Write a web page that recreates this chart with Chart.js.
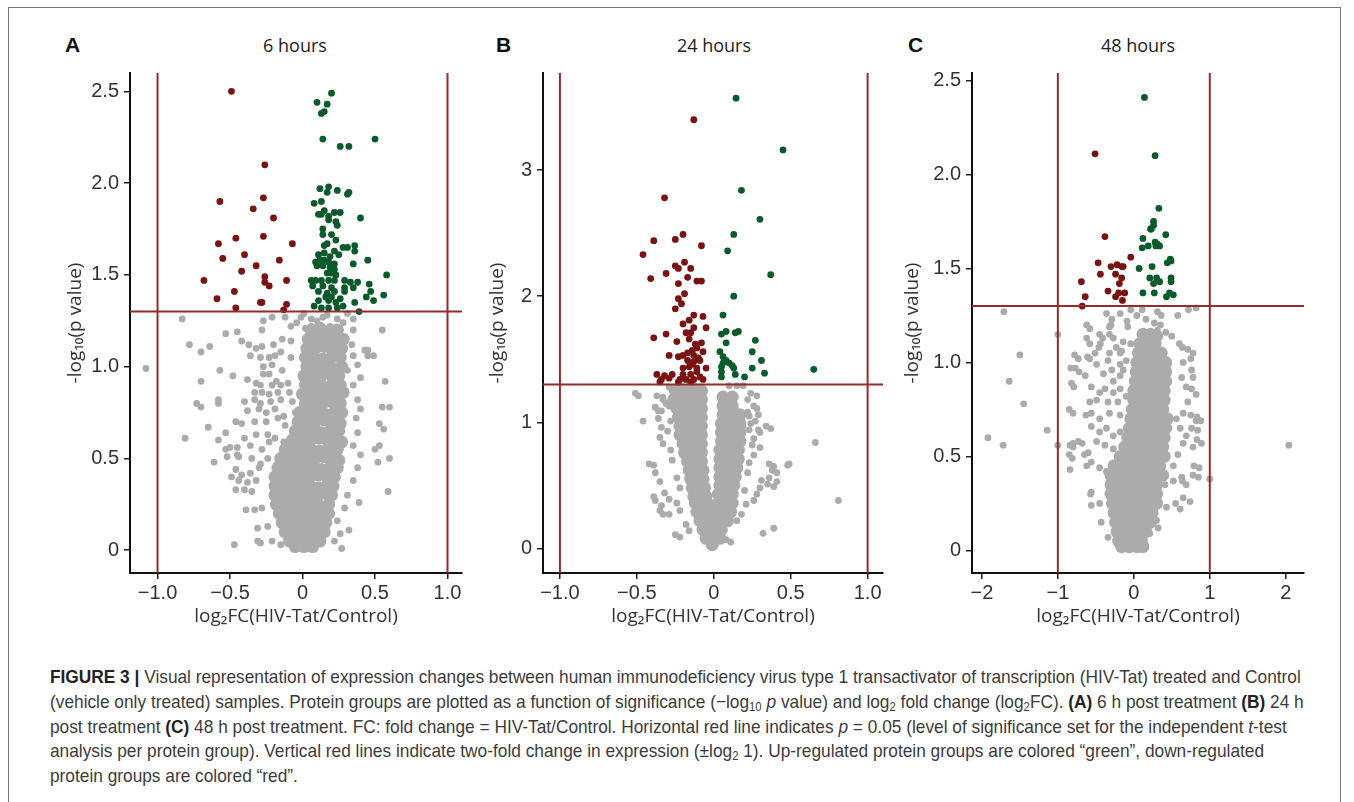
<!DOCTYPE html>
<html>
<head>
<meta charset="utf-8">
<script src="https://cdn.jsdelivr.net/npm/chart.js@4.4.0/dist/chart.umd.min.js"></script>
<style>
  body { margin:0; background:#fff; width:1354px; height:802px; overflow:hidden; position:relative; }
  #frame { position:absolute; left:8px; top:7px; width:1331px; height:830px; border:1px solid #777; }
  canvas { position:absolute; }
  .letter { position:absolute; top:34px; font:bold 21px "Liberation Sans", Arial, sans-serif; color:#111; line-height:22px; }
  .ttl { position:absolute; top:34px; width:200px; text-align:center; font:18px "Open Sans", sans-serif; color:#222; line-height:22px; }
  #caption { position:absolute; left:50px; top:665px; font:18.4px "Liberation Sans Narrow", "Liberation Sans", Arial, sans-serif; color:#3c3c3c; line-height:24.8px; white-space:nowrap; transform:scaleX(0.94); transform-origin:0 0; }
  #caption b { color:#222; }
  #caption sub { font-size:12px; vertical-align:-3px; line-height:0; }
</style>
</head>
<body>
<div id="frame"></div>

<div class="letter" style="left:65px">A</div>
<div class="letter" style="left:496px">B</div>
<div class="letter" style="left:908px">C</div>
<div class="ttl" style="left:195px">6 hours</div>
<div class="ttl" style="left:614px">24 hours</div>
<div class="ttl" style="left:1038px">48 hours</div>

<canvas id="cA" width="412" height="576" style="left:60px;top:56px"></canvas>
<canvas id="cB" width="411" height="576" style="left:482px;top:56px"></canvas>
<canvas id="cC" width="417" height="576" style="left:897px;top:56px"></canvas>

<div id="caption">
<b>FIGURE 3 |</b> Visual representation of expression changes between human immunodeficiency virus type 1 transactivator of transcription (HIV-Tat) treated and Control<br>
(vehicle only treated) samples. Protein groups are plotted as a function of significance (−log<sub>10</sub> <i>p</i> value) and log<sub>2</sub> fold change (log<sub>2</sub>FC). <b>(A)</b> 6 h post treatment <b>(B)</b> 24 h<br>
post treatment <b>(C)</b> 48 h post treatment. FC: fold change = HIV-Tat/Control. Horizontal red line indicates <i>p</i> = 0.05 (level of significance set for the independent <i>t</i>-test<br>
analysis per protein group). Vertical red lines indicate two-fold change in expression (±log<sub>2</sub> 1). Up-regulated protein groups are colored “green”, down-regulated<br>
protein groups are colored “red”.
</div>

<script>
// thresholds: p = 0.05 and two-fold change
const pLine = 1.3;
const fcLines = [-1, 1];

// ---- panel A: 6 hours ----
const xTicksA = [-1, -0.5, 0, 0.5, 1];
const xLabelsA = ['−1.0', '−0.5', '0', '0.5', '1.0'];
const yTicksA = [0, 0.5, 1, 1.5, 2, 2.5];
const yLabelsA = ['0', '0.5', '1.0', '1.5', '2.0', '2.5'];

const downA = [[-0.49,2.50],[-0.26,2.10],[-0.57,1.90],[-0.27,1.92],[-0.34,1.86],[-0.20,1.81],[-0.46,1.70],[-0.27,1.71],
  [-0.58,1.67],[-0.07,1.67],[-0.40,1.61],[-0.55,1.59],[-0.16,1.58],[-0.32,1.55],[-0.42,1.52],[-0.26,1.49],[-0.26,1.46],
  [-0.68,1.47],[-0.11,1.47],[-0.23,1.44],[-0.47,1.41],[-0.59,1.37],[-0.29,1.35],[-0.28,1.35],[-0.11,1.34],[-0.46,1.32],[-0.13,1.31]];

const upA = [[0.20,2.49],[0.10,2.44],[0.17,2.43],[0.13,2.38],[0.15,2.39],[0.14,2.24],[0.50,2.24],[0.26,2.20],[0.32,2.20],
  [0.12,1.97],[0.18,1.98],[0.17,1.95],[0.24,1.96],[0.31,1.94],[0.32,1.95],[0.08,1.89],[0.13,1.90],[0.15,1.85],[0.11,1.83],
  [0.13,1.83],[0.18,1.82],[0.22,1.84],[0.26,1.84],[0.23,1.79],[0.40,1.81],[0.18,1.80],[0.24,1.77],[0.14,1.75],[0.14,1.72],
  [0.20,1.72],[0.23,1.69],[0.15,1.66],[0.17,1.67],[0.28,1.65],[0.31,1.65],[0.36,1.66],[0.36,1.63],[0.22,1.63],[0.11,1.61],
  [0.15,1.62],[0.25,1.61],[0.19,1.60],[0.45,1.58],[0.09,1.57],[0.12,1.58],[0.15,1.58],[0.18,1.57],[0.22,1.56],[0.35,1.56],
  [0.10,1.55],[0.14,1.55],[0.19,1.54],[0.22,1.53],[0.17,1.51],[0.20,1.51],[0.23,1.50],[0.58,1.50],[0.06,1.47],[0.09,1.47],
  [0.13,1.47],[0.18,1.47],[0.22,1.47],[0.29,1.47],[0.33,1.46],[0.38,1.46],[0.46,1.45],[0.07,1.44],[0.14,1.44],[0.20,1.43],
  [0.29,1.43],[0.35,1.43],[0.11,1.41],[0.17,1.40],[0.22,1.41],[0.29,1.41],[0.47,1.41],[0.16,1.38],[0.20,1.38],[0.26,1.37],
  [0.44,1.38],[0.56,1.39],[0.11,1.36],[0.18,1.36],[0.23,1.35],[0.36,1.35],[0.49,1.36],[0.08,1.33],[0.13,1.32],[0.18,1.32],
  [0.24,1.32],[0.28,1.33],[0.39,1.30]];

const grayA = [[-1.08,0.99],[-0.83,1.26],[-0.78,1.12],[-0.70,1.08],[-0.64,1.11],[-0.53,1.18],[-0.45,1.19],[-0.70,0.92],
  [-0.57,0.98],[-0.48,0.95],[-0.73,0.80],[-0.70,0.78],[-0.58,0.82],[-0.58,0.80],[-0.65,0.67],[-0.81,0.61],[-0.58,0.60],
  [-0.53,0.64],[-0.61,0.48],[-0.53,0.55],[-0.50,0.56],[-0.52,0.51],[-0.45,0.56],[-0.44,0.51],[-0.47,0.03],[-0.29,0.04],
  [0.55,1.20],[0.45,1.09],[0.49,1.06],[0.57,0.92],[0.55,0.78],[0.60,0.78],[0.53,0.69],[0.56,0.66],[0.50,0.55],[0.53,0.57],
  [0.52,0.48],[0.60,0.50],[0.59,0.32],[0.39,0.26],[0.32,0.11],[0.27,0.01],
  [-0.27,1.25],[-0.21,1.27],[-0.12,1.27],[-0.28,1.20],[-0.08,1.22],[-0.42,1.14],[-0.37,1.12],[-0.32,1.10],[-0.28,1.11],
  [-0.20,1.12],[-0.14,1.15],[-0.08,1.14],[-0.36,1.06],[-0.29,1.05],[-0.23,1.05],[-0.19,1.06],[-0.15,1.08],[-0.27,1.00],
  [-0.21,1.01],[-0.14,0.98],[-0.08,1.05],[-0.27,0.96],[-0.23,0.96],[-0.18,0.92],[-0.38,0.93],[-0.32,0.91],[-0.29,0.90],
  [-0.21,0.90],[-0.15,0.90],[-0.10,0.91],[-0.33,0.86],[-0.28,0.86],[-0.23,0.85],[-0.17,0.86],[-0.09,0.86],[-0.40,0.81],
  [-0.33,0.82],[-0.29,0.80],[-0.22,0.81],[-0.15,0.82],[-0.07,0.81],[-0.38,0.76],[-0.30,0.77],[-0.25,0.75],[-0.19,0.77],
  [-0.13,0.73],[-0.05,0.75],[-0.46,0.70],[-0.42,0.69],[-0.33,0.70],[-0.25,0.70],[-0.17,0.72],[-0.12,0.68],[-0.04,0.71],
  [-0.40,0.61],[-0.32,0.63],[-0.24,0.63],[-0.19,0.61],[-0.13,0.59],[-0.06,0.62],[-0.36,0.57],[-0.28,0.55],[-0.23,0.59],
  [-0.45,0.52],[-0.35,0.50],[-0.29,0.47],[-0.46,0.44],[-0.42,0.41],[-0.36,0.42],[-0.30,0.45],[-0.24,0.50],[-0.49,0.40],
  [-0.44,0.38],[-0.38,0.37],[-0.32,0.38],[-0.46,0.33],[-0.40,0.33],[-0.35,0.32],[-0.39,0.22],[-0.33,0.22],[-0.28,0.23],
  [-0.31,0.12],[-0.24,0.13],[-0.21,0.05],[-0.15,0.03],[-0.31,0.05],
  [0.35,1.20],[0.34,1.12],[0.43,1.09],[0.45,1.06],[0.35,1.06],[0.38,1.01],[0.31,0.98],[0.40,0.94],[0.35,0.90],[0.38,0.82],
  [0.40,0.77],[0.37,0.72],[0.38,0.64],[0.35,0.57],[0.40,0.52],[0.38,0.45],[0.35,0.38],[0.31,0.30],[0.29,0.23],[0.24,0.16],
  [0.26,0.09],[0.22,0.05],
  [0.01,1.29],[0.06,1.26],[0.14,1.27],[0.24,1.26],[0.31,1.29],[0.35,1.26],[-0.01,1.27],[0.06,1.22],[0.19,1.22],[0.26,1.20],
  [0.10,1.25],[0.17,1.28],[0.28,1.24],[0.02,1.21],[-0.04,1.24]];

// dense centre of the cloud
const coreA = [[0.06,1.20],[0.12,1.21],[0.18,1.19],[0.24,1.20],[0.04,1.15],[0.10,1.15],[0.16,1.16],[0.22,1.14],[0.28,1.15],
  [0.03,1.10],[0.09,1.10],[0.15,1.11],[0.21,1.09],[0.27,1.10],[0.02,1.05],[0.08,1.05],[0.14,1.04],[0.20,1.05],[0.26,1.05],
  [0.03,1.00],[0.09,1.00],[0.15,1.01],[0.21,0.99],[0.27,1.00],[0.01,0.95],[0.07,0.95],[0.13,0.95],[0.19,0.96],[0.25,0.95],
  [0.02,0.90],[0.08,0.90],[0.14,0.89],[0.20,0.90],[0.26,0.90],[0.00,0.85],[0.06,0.85],[0.12,0.85],[0.18,0.84],[0.24,0.85],
  [0.28,0.86],[0.02,0.80],[0.08,0.80],[0.14,0.80],[0.20,0.81],[0.26,0.80],[-0.02,0.75],[0.04,0.75],[0.10,0.75],[0.16,0.74],
  [0.22,0.75],[0.27,0.75],[-0.03,0.70],[0.03,0.70],[0.09,0.70],[0.15,0.71],[0.21,0.70],[0.26,0.69],[-0.05,0.65],[0.01,0.65],
  [0.07,0.65],[0.13,0.64],[0.19,0.65],[0.25,0.65],[-0.07,0.60],[-0.01,0.60],[0.05,0.60],[0.11,0.61],[0.17,0.60],[0.23,0.60],
  [0.27,0.59],[-0.12,0.55],[-0.06,0.55],[0.00,0.55],[0.06,0.55],[0.12,0.54],[0.18,0.55],[0.24,0.55],[-0.15,0.50],[-0.09,0.50],
  [-0.03,0.50],[0.03,0.50],[0.09,0.50],[0.15,0.51],[0.21,0.50],[0.25,0.49],[-0.17,0.45],[-0.11,0.45],[-0.05,0.45],[0.01,0.45],
  [0.07,0.45],[0.13,0.44],[0.19,0.45],[0.24,0.45],[-0.19,0.40],[-0.13,0.40],[-0.07,0.40],[-0.01,0.40],[0.05,0.40],[0.11,0.41],
  [0.17,0.40],[0.22,0.40],[-0.19,0.35],[-0.13,0.35],[-0.07,0.35],[-0.01,0.35],[0.05,0.35],[0.11,0.34],[0.17,0.35],[0.21,0.35],
  [-0.19,0.30],[-0.13,0.30],[-0.07,0.30],[-0.01,0.30],[0.05,0.30],[0.11,0.30],[0.16,0.31],[0.20,0.30],[-0.18,0.25],[-0.12,0.25],
  [-0.06,0.25],[0.00,0.25],[0.06,0.25],[0.12,0.24],[0.18,0.25],[-0.16,0.20],[-0.10,0.20],[-0.04,0.20],[0.02,0.20],[0.08,0.20],
  [0.14,0.21],[0.18,0.20],[-0.14,0.15],[-0.08,0.15],[-0.02,0.15],[0.04,0.15],[0.10,0.15],[0.16,0.15],[-0.12,0.10],[-0.06,0.10],
  [0.00,0.10],[0.06,0.10],[0.12,0.10],[0.15,0.10],[-0.09,0.05],[-0.03,0.05],[0.03,0.05],[0.09,0.05],[0.12,0.05],[-0.05,0.02],
  [0.01,0.02],[0.07,0.02]];

// ---- panel B: 24 hours ----
const xTicksB = [-1, -0.5, 0, 0.5, 1];
const xLabelsB = ['−1.0', '−0.5', '0', '0.5', '1.0'];
const yTicksB = [0, 1, 2, 3];
const yLabelsB = ['0', '1', '2', '3'];

const downB = [[-0.13,3.40],[-0.32,2.78],[-0.20,2.49],[-0.25,2.45],[-0.39,2.44],[-0.08,2.40],[-0.46,2.33],[-0.19,2.27],
  [-0.25,2.24],[-0.23,2.22],[-0.15,2.22],[-0.31,2.18],[-0.17,2.15],[-0.11,2.12],[-0.08,2.12],[-0.41,2.14],[-0.23,2.10],
  [-0.19,2.02],[-0.23,1.98],[-0.21,1.94],[-0.25,1.90],[-0.13,1.85],[-0.07,1.84],[-0.16,1.81],[-0.20,1.78],[-0.13,1.75],
  [-0.05,1.75],[-0.18,1.71],[-0.15,1.71],[-0.31,1.70],[-0.39,1.67],[-0.24,1.64],[-0.16,1.66],[-0.08,1.63],[-0.11,1.59],
  [-0.14,1.57],[-0.17,1.55],[-0.07,1.56],[-0.13,1.53],[-0.20,1.53],[-0.10,1.51],[-0.29,1.53],[-0.23,1.52],[-0.17,1.49],
  [-0.13,1.48],[-0.09,1.49],[-0.05,1.43],[-0.16,1.44],[-0.11,1.43],[-0.20,1.43],[-0.37,1.38],[-0.32,1.37],[-0.27,1.38],
  [-0.20,1.38],[-0.15,1.38],[-0.09,1.36],[-0.34,1.34],[-0.29,1.35],[-0.22,1.34],[-0.18,1.34],[-0.13,1.34],[-0.07,1.34],
  [-0.35,1.32],[-0.23,1.32],[-0.15,1.32],[-0.11,1.40],[-0.14,1.46],[-0.12,1.62]];

const upB = [[0.145,3.57],[0.45,3.16],[0.18,2.84],[0.30,2.61],[0.13,2.49],[0.09,2.36],[0.37,2.17],[0.13,2.00],[0.06,1.85],
  [0.05,1.70],[0.08,1.72],[0.14,1.71],[0.16,1.72],[0.27,1.65],[0.08,1.63],[0.04,1.56],[0.25,1.56],[0.31,1.49],[0.06,1.52],
  [0.08,1.49],[0.06,1.47],[0.10,1.47],[0.12,1.45],[0.05,1.44],[0.13,1.43],[0.25,1.43],[0.33,1.39],[0.65,1.42],[0.05,1.40],
  [0.05,1.36],[0.14,1.38],[0.20,1.36]];

const grayB = [[-0.49,1.21],[-0.46,1.01],[0.66,0.84],[0.81,0.38],[-0.39,0.66],[-0.38,0.38],[-0.33,0.27],[-0.22,0.09],
  [0.11,0.05],[0.32,0.12],[0.39,0.16],[0.39,0.65],[0.41,0.60],[0.48,0.66],[0.49,0.67],[0.30,0.92],[0.37,0.95],[0.28,1.11],
  [0.28,1.21],[0.29,1.06],[0.27,1.01],[-0.33,1.20],[-0.31,1.15],[-0.36,1.09],[-0.29,1.13],[0.41,0.53],[0.39,0.49],[0.35,0.51],
  [-0.51,1.23],[-0.37,1.21],[-0.33,1.18],[-0.38,1.12],[-0.34,1.09],[-0.36,1.03],[-0.34,0.96],[-0.35,0.88],[-0.33,0.83],
  [-0.42,0.67],[-0.38,0.60],[-0.35,0.53],[-0.39,0.41],[-0.34,0.34],[-0.35,0.30],[-0.29,0.27],[-0.25,0.11],[-0.32,0.44],
  [-0.29,0.39],[-0.24,0.36],[-0.22,0.30],[-0.18,0.19],[-0.16,0.14],
  [0.10,1.29],[0.15,1.29],[0.19,1.29],[0.24,1.23],[0.26,1.13],[0.22,1.08],[0.23,1.05],[0.18,1.03],[0.19,0.97],[0.23,0.94],
  [0.29,0.94],[0.34,0.97],[0.26,0.87],[0.30,0.80],[0.26,0.74],[0.36,0.67],[0.38,0.62],[0.36,0.56],[0.31,0.54],[0.30,0.48],
  [0.28,0.43],[0.26,0.38],[0.21,0.35],[0.18,0.27],[0.15,0.22],[0.08,0.07],
  [-0.29,1.28],[-0.23,1.29],[-0.18,1.28],[-0.13,1.29],[-0.09,1.28],[-0.06,1.25],[-0.16,1.24],[-0.22,1.21],
  [-0.28,1.01],[-0.30,0.93],[-0.28,0.78],[-0.27,0.70],[-0.24,0.56],[-0.22,0.48],[0.22,1.18],[0.24,0.99],[0.25,0.82],
  [0.23,0.68],[0.22,0.60],[0.20,0.46]];

const coreB = [[-0.25,1.25],[-0.19,1.25],[-0.13,1.25],[-0.08,1.25],[-0.26,1.18],[-0.20,1.18],[-0.14,1.18],[-0.08,1.18],
  [-0.24,1.11],[-0.18,1.11],[-0.12,1.11],[-0.08,1.11],[-0.23,1.04],[-0.17,1.04],[-0.11,1.04],[-0.08,1.04],[-0.22,0.97],
  [-0.16,0.97],[-0.10,0.97],[-0.08,0.97],[-0.22,0.90],[-0.16,0.90],[-0.10,0.90],[-0.08,0.90],[-0.20,0.83],[-0.14,0.83],
  [-0.08,0.83],[-0.19,0.76],[-0.13,0.76],[-0.08,0.76],[-0.17,0.69],[-0.11,0.69],[-0.08,0.69],[-0.16,0.62],[-0.10,0.62],
  [-0.07,0.62],[-0.15,0.55],[-0.09,0.55],[-0.07,0.55],[-0.14,0.48],[-0.08,0.48],[-0.06,0.48],[-0.13,0.41],[-0.07,0.41],
  [-0.05,0.41],
  [0.06,1.20],[0.12,1.20],[0.06,1.13],[0.12,1.13],[0.06,1.06],[0.12,1.06],[0.17,1.06],[0.05,0.99],[0.11,0.99],[0.17,0.99],
  [0.05,0.92],[0.11,0.92],[0.17,0.92],[0.05,0.85],[0.11,0.85],[0.17,0.85],[0.04,0.78],[0.10,0.78],[0.16,0.78],[0.04,0.71],
  [0.10,0.71],[0.16,0.71],[0.04,0.64],[0.10,0.64],[0.15,0.64],[0.04,0.57],[0.09,0.57],[0.14,0.57],[0.04,0.50],[0.08,0.50],
  [0.13,0.50],[0.03,0.43],[0.07,0.43],[0.12,0.43],
  [-0.12,0.36],[-0.06,0.36],[0.00,0.34],[0.06,0.36],[0.12,0.36],[-0.11,0.29],[-0.05,0.29],[0.01,0.29],[0.07,0.29],[0.11,0.29],
  [-0.09,0.22],[-0.03,0.22],[0.03,0.22],[0.09,0.22],[-0.07,0.15],[-0.01,0.15],[0.05,0.15],[-0.05,0.08],[0.01,0.08],[0.04,0.08],
  [-0.01,0.03]];

// ---- panel C: 48 hours ----
const xTicksC = [-2, -1, 0, 1, 2];
const xLabelsC = ['−2', '−1', '0', '1', '2'];
const yTicksC = [0, 0.5, 1, 1.5, 2, 2.5];
const yLabelsC = ['0', '0.5', '1.0', '1.5', '2.0', '2.5'];

const downC = [[-0.51,2.11],[-0.38,1.67],[-0.04,1.56],[-0.47,1.53],[-0.30,1.51],[-0.22,1.52],[-0.16,1.51],[-0.14,1.51],
  [-0.44,1.47],[-0.24,1.47],[-0.16,1.45],[-0.69,1.43],[-0.19,1.42],[-0.34,1.38],[-0.20,1.37],[-0.12,1.37],[-0.24,1.35],
  [-0.15,1.33],[-0.64,1.35],[-0.68,1.30]];

const upC = [[0.14,2.41],[0.28,2.10],[0.33,1.82],[0.26,1.75],[0.26,1.73],[0.23,1.71],[0.22,1.71],[0.42,1.68],[0.12,1.66],
  [0.11,1.61],[0.19,1.62],[0.28,1.64],[0.31,1.63],[0.34,1.62],[0.29,1.62],[0.48,1.55],[0.44,1.53],[0.49,1.54],[0.07,1.50],
  [0.24,1.51],[0.21,1.45],[0.26,1.42],[0.30,1.45],[0.34,1.43],[0.49,1.45],[0.49,1.43],[0.12,1.37],[0.27,1.37],[0.43,1.35],
  [0.47,1.37],[0.52,1.36]];

const grayC = [[-1.92,0.60],[-1.72,0.56],[-1.64,0.90],[-1.50,1.04],[-1.45,0.78],[-1.14,0.64],[-1.71,1.27],[2.04,0.56],
  [1.00,0.38],[-1.00,0.56],[-1.00,1.15],[-0.80,0.73],[-0.79,0.87],[-0.73,1.02],[-0.81,0.49],[-0.80,0.55],[-0.68,0.57],
  [-0.72,0.95],[0.74,0.26],[0.61,0.22],[0.86,0.44],[0.85,0.39],[0.84,0.64],[0.88,0.69],[0.82,0.69],[0.89,0.57],[0.82,0.83],
  [0.69,0.35],[0.64,0.37],
  [-0.36,1.26],[-0.18,1.26],[-0.04,1.28],[0.11,1.28],[0.31,1.27],[0.36,1.25],[0.58,1.25],[0.72,1.28],[0.82,1.29],
  [-0.29,1.23],[-0.30,1.20],[0.04,1.25],[-0.09,1.22],[-0.08,1.19],[0.27,1.21],[0.35,1.20],[0.16,1.23],[0.31,1.17],[0.42,1.16],
  [0.64,1.08],[0.78,1.05],[-0.58,1.18],[-0.41,1.13],[-0.44,1.10],[-0.58,1.10],[-0.16,1.06],[-0.27,1.13],[-0.04,1.10],
  [-0.62,1.20],[-0.45,1.15],[-0.32,1.19],[-0.32,1.15],[-0.62,1.13],[-0.46,1.08],[-0.34,1.01],[-0.23,1.08],[-0.18,1.05],
  [-0.14,1.11],[-0.51,1.05],[-0.58,1.02],[-0.32,1.05],[-0.78,1.04],[-0.64,0.93],[-0.49,0.99],[-0.40,0.94],[-0.29,0.96],
  [-0.18,0.99],[-0.10,1.01],[-0.18,0.93],[-0.14,0.96],[-0.27,0.90],[-0.56,0.87],[-0.45,0.84],[-0.38,0.86],[-0.27,0.84],
  [-0.18,0.86],[-0.10,0.82],[-0.58,0.79],[-0.49,0.80],[-0.34,0.79],[-0.21,0.79],[-0.56,0.73],[-0.45,0.70],[-0.32,0.73],
  [-0.18,0.72],[-0.85,0.75],[-0.63,0.72],[-0.56,0.66],[-0.45,0.63],[-0.36,0.65],[-0.27,0.61],[-0.18,0.63],[-0.10,0.59],
  [-0.49,0.58],[-0.38,0.56],[-0.27,0.54],[-0.84,0.56],[-0.80,0.57],[-0.73,0.58],[-0.85,0.51],[-0.65,0.51],[-0.60,0.52],
  [-0.62,0.45],[-0.56,0.47],[-0.84,0.43],[-0.45,0.44],[-0.36,0.42],[-0.56,0.31],[-0.57,0.30],[-0.56,0.24],[-0.45,0.25],
  [-0.43,0.15],[-0.34,0.07],[-0.82,0.89],[-0.83,0.97],[-0.77,0.97],[-0.61,1.03],
  [0.50,1.14],[0.60,1.10],[0.71,1.07],[0.75,1.02],[0.65,1.00],[0.76,0.96],[0.78,0.92],[0.63,0.92],[0.69,0.87],[0.76,0.86],
  [0.71,0.79],[0.65,0.73],[0.75,0.72],[0.83,0.71],[0.56,0.70],[0.76,0.65],[0.61,0.65],[0.69,0.61],[0.83,0.59],[0.65,0.57],
  [0.78,0.55],[0.58,0.51],[0.52,0.45],[0.79,0.45],[0.78,0.40],[0.63,0.39],[0.52,0.37],[0.41,0.35],[0.65,0.28],[0.55,0.25],
  [0.43,0.23],[0.30,0.16],[0.32,0.12],[0.21,0.09]];

const coreC = [[0.12,1.15],[0.22,1.15],[0.30,1.14],[0.08,1.10],[0.18,1.10],[0.28,1.10],[0.06,1.05],[0.16,1.05],[0.26,1.05],
  [0.36,1.05],[0.04,1.00],[0.14,1.00],[0.24,1.00],[0.34,1.00],[0.42,1.00],[0.03,0.95],[0.13,0.95],[0.23,0.95],[0.33,0.95],
  [0.42,0.95],[0.02,0.90],[0.12,0.90],[0.22,0.90],[0.32,0.90],[0.42,0.90],[0.00,0.85],[0.10,0.85],[0.20,0.85],[0.30,0.85],
  [0.40,0.85],[0.00,0.80],[0.10,0.80],[0.20,0.80],[0.30,0.80],[0.40,0.80],[-0.02,0.75],[0.08,0.75],[0.18,0.75],[0.28,0.75],
  [0.38,0.75],[-0.04,0.70],[0.06,0.70],[0.16,0.70],[0.26,0.70],[0.36,0.70],[0.44,0.70],[-0.06,0.65],[0.04,0.65],[0.14,0.65],
  [0.24,0.65],[0.34,0.65],[0.42,0.65],[-0.08,0.60],[0.02,0.60],[0.12,0.60],[0.22,0.60],[0.32,0.60],[0.40,0.60],[-0.12,0.55],
  [-0.02,0.55],[0.08,0.55],[0.18,0.55],[0.28,0.55],[0.38,0.55],[-0.18,0.50],[-0.08,0.50],[0.02,0.50],[0.12,0.50],[0.22,0.50],
  [0.32,0.50],[0.40,0.50],[-0.26,0.45],[-0.16,0.45],[-0.06,0.45],[0.04,0.45],[0.14,0.45],[0.24,0.45],[0.34,0.45],[-0.30,0.40],
  [-0.20,0.40],[-0.10,0.40],[0.00,0.40],[0.10,0.40],[0.20,0.40],[0.30,0.40],[0.38,0.40],[-0.30,0.35],[-0.20,0.35],[-0.10,0.35],
  [0.00,0.35],[0.10,0.35],[0.20,0.35],[0.30,0.35],[-0.30,0.30],[-0.20,0.30],[-0.10,0.30],[0.00,0.30],[0.10,0.30],[0.20,0.30],
  [0.30,0.30],[-0.28,0.25],[-0.18,0.25],[-0.08,0.25],[0.02,0.25],[0.12,0.25],[0.22,0.25],[0.30,0.25],[-0.26,0.20],[-0.16,0.20],
  [-0.06,0.20],[0.04,0.20],[0.14,0.20],[0.24,0.20],[-0.24,0.15],[-0.14,0.15],[-0.04,0.15],[0.06,0.15],[0.16,0.15],[0.22,0.15],
  [-0.22,0.10],[-0.12,0.10],[-0.02,0.10],[0.08,0.10],[0.16,0.10],[-0.20,0.05],[-0.10,0.05],[0.00,0.05],[0.10,0.05],[-0.16,0.02],
  [-0.06,0.02],[0.04,0.02],[0.12,0.02]];

const GRAY = '#ababab', RED = '#7a1212', GREEN = '#0b5a2c', LINE = '#962b2b';
const tickFont = { family: '"Liberation Sans", Arial, sans-serif', size: 20 };
const titleFont = { family: '"Open Sans", sans-serif', size: 19 };

function pts(color, r, data) {
  return { data: data, backgroundColor: color, borderWidth: 0, pointRadius: r, pointHoverRadius: r };
}
function refLine(data) {
  return { data: data, showLine: true, borderColor: LINE, borderWidth: 2, pointRadius: 0, fill: false };
}

function makePanel(id, p) {
  const ds = [];
  fcLines.forEach(v => ds.push(refLine([[v, p.yMin], [v, p.yMax]])));
  ds.push(refLine([[p.xMin, pLine], [p.xMax, pLine]]));
  ds.push(pts(GREEN, 3.4, p.up));
  ds.push(pts(RED, 3.4, p.down));
  ds.push(pts(GRAY, 3.4, p.gray));
  ds.push(pts(GRAY, 6.5, p.core));

  new Chart(document.getElementById(id), {
    type: 'scatter',
    data: { datasets: ds },
    options: {
      responsive: false, animation: false, devicePixelRatio: 1, events: [],
      layout: { padding: { top: 10, right: 10, bottom: 0, left: 0 } },
      plugins: { legend: { display: false }, tooltip: { enabled: false } },
      scales: {
        x: {
          type: 'linear', min: p.xMin, max: p.xMax,
          afterFit: s => { s.height = 59; },
          afterBuildTicks: s => { s.ticks = p.xTicks.map(v => ({ value: v })); },
          ticks: { callback: (v, i) => p.xLabels[i], font: tickFont, color: '#333', padding: 2, maxRotation: 0, autoSkip: false },
          grid: { drawOnChartArea: false, drawTicks: true, tickLength: 6, color: '#222', lineWidth: 1.5 },
          border: { display: true, color: '#111', width: 2 },
          title: { display: true, text: 'log₂FC(HIV-Tat/Control)', font: titleFont, color: '#333', padding: { top: 4, bottom: 4 } }
        },
        y: {
          type: 'linear', min: p.yMin, max: p.yMax,
          afterFit: s => { s.width = p.yW; },
          afterBuildTicks: s => { s.ticks = p.yTicks.map(v => ({ value: v })); },
          ticks: { callback: (v, i) => p.yLabels[i], font: tickFont, color: '#333', padding: 5, autoSkip: false },
          grid: { drawOnChartArea: false, drawTicks: true, tickLength: 6, color: '#222', lineWidth: 1.5 },
          border: { display: true, color: '#111', width: 2 },
          title: { display: true, text: '-log₁₀(p value)', font: titleFont, color: '#333', padding: { top: 4, bottom: 4 } }
        }
      }
    }
  });
}

makePanel('cA', { up: upA, down: downA, gray: grayA, core: coreA, xMin: -1.19, xMax: 1.10, yMin: -0.124, yMax: 2.60,
  xTicks: xTicksA, xLabels: xLabelsA, yTicks: yTicksA, yLabels: yLabelsA, yW: 70 });
makePanel('cB', { up: upB, down: downB, gray: grayB, core: coreB, xMin: -1.11, xMax: 1.10, yMin: -0.195, yMax: 3.77,
  xTicks: xTicksB, xLabels: xLabelsB, yTicks: yTicksB, yLabels: yLabelsB, yW: 61 });
makePanel('cC', { up: upC, down: downC, gray: grayC, core: coreC, xMin: -2.13, xMax: 2.24, yMin: -0.12, yMax: 2.54,
  xTicks: xTicksC, xLabels: xLabelsC, yTicks: yTicksC, yLabels: yLabelsC, yW: 75 });
</script>
</body>
</html>
